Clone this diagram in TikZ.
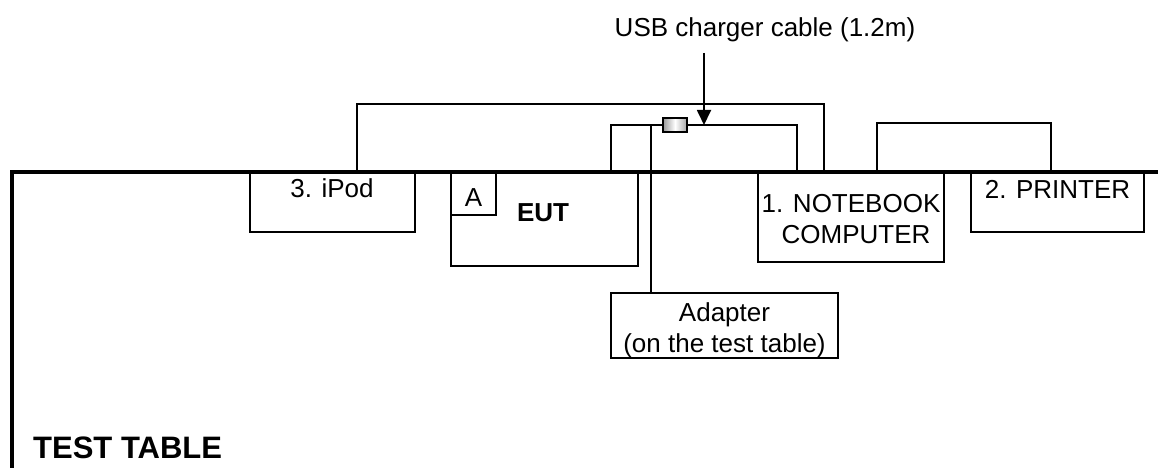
\documentclass[tikz,border=0pt]{standalone}
\usepackage{fontspec}
\setmainfont{Liberation Sans}
\usetikzlibrary{positioning, arrows.meta}

\begin{document}
\begin{tikzpicture}[x=1pt, y=-1pt,
  unit/.style={draw, line width=1.8pt, inner sep=0pt, outer sep=0pt, anchor=north west},
  lbl/.style={font=\fontsize{26}{30}\selectfont, inner sep=0pt, anchor=base},
  cable/.style={line width=1.8pt},
  arrow/.style={-{Triangle[width=14pt, length=15pt]}, line width=1.8pt}
]
  \useasboundingbox (0,0) rectangle (1158,468);

  % devices on the table
  \node[unit, minimum width=165pt, minimum height=60pt] (ipod) at (250,172) {};
  \node[unit, minimum width=187pt, minimum height=94pt] (eut) at (451,172) {};
  \node[unit, minimum width=45pt, minimum height=43pt] (portA) at (451,172) {};
  \node[unit, minimum width=186pt, minimum height=90pt] (notebook) at (758,172) {};
  \node[unit, minimum width=173pt, minimum height=60pt] (printer) at (971,172) {};
  \node[unit, minimum width=227pt, minimum height=65pt] (adapter) at (611,293) {};

  \node[lbl] (ipodtxt) at (332,197) {3. iPod};
  \node[lbl] (atxt) at (473.5,206) {A};
  \node[lbl, font=\fontsize{26}{30}\selectfont\bfseries] (euttxt) at (543,221) {EUT};
  \node[lbl] (nbtxt) at (851,212) {1. NOTEBOOK};
  \node[lbl] (nbtxtb) at (856,243) {COMPUTER};
  \node[lbl] (prtxt) at (1057.5,198) {2. PRINTER};
  \node[lbl] (adtxt) at (724.5,321) {Adapter};
  \node[lbl] (adtxtb) at (724.5,352) {(on the test table)};
  \node[lbl] (usb) at (765,37) {USB charger cable (1.2m)};
  \node[lbl, anchor=base west, font=\fontsize{31}{36}\selectfont\bfseries] (table) at (33,458) {TEST TABLE};

  % USB plug
  \shade[left color=gray!80, right color=gray!70, middle color=white]
    (663,118) rectangle (687,132);
  \node[draw, line width=1.8pt, inner sep=0pt, outer sep=0pt,
        minimum width=24pt, minimum height=14pt] (plug) at (675,125) {};

  % cables
  \draw[cable] ([xshift=107pt]ipod.north west) -- ++(0,-68) -| ([xshift=66pt]notebook.north west);
  \draw[cable] ([xshift=160pt]eut.north west) |- (plug.west);
  \draw[cable] (plug.east) -| ([xshift=39pt]notebook.north west);
  \draw[cable] ([xshift=40pt]adapter.north west) -- ++(0,-168);
  \draw[cable] ([xshift=119pt]notebook.north west) -- ++(0,-49) -| ([xshift=80pt]printer.north west);

  \coordinate (tail) at (704,53);
  \coordinate (tip) at (704,125);
  \draw[arrow] (tail) -- (tip);

  % table edge
  \draw[line width=4pt] (11.5,470) |- (1160,171.5);
\end{tikzpicture}
\end{document}
